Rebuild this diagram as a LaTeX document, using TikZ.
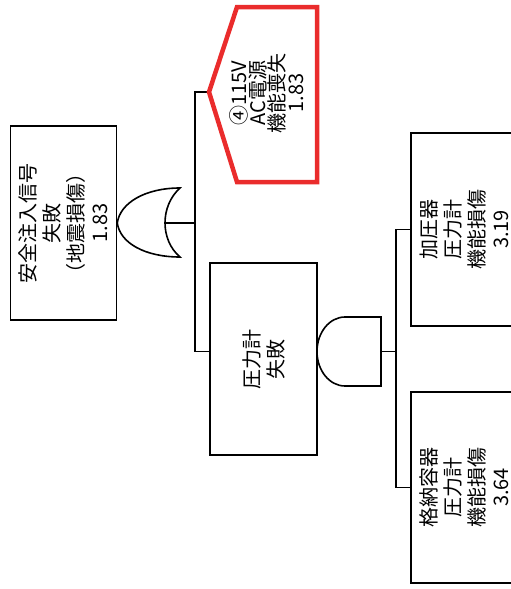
\documentclass[tikz,border=0pt]{standalone}
\usepackage{fontspec}
\newfontfamily\jp{Noto Sans CJK JP}
\definecolor{housered}{RGB}{234,44,44}
\begin{document}
\begin{tikzpicture}[x=1pt,y=-1pt,
  ln/.style={line width=1.6pt, draw=black},
  box/.style={draw=black, line width=1.6pt, rectangle, inner sep=0pt, fill=white},
  txt/.style={rotate=90, align=center, inner sep=0pt, font=\jp\fontsize{20}{24}\selectfont},
  housetxt/.style={rotate=90, align=center, inner sep=0pt, font=\jp\fontsize{20}{19}\selectfont},
  gate/.style={draw=black, line width=1.6pt, fill=white, line join=miter},
  house/.style={draw=housered, line width=4.5pt, line join=miter}]
\useasboundingbox (0,0) rectangle (511,589);
\clip (0,0) rectangle (511,589);

% boxes
\node[box, minimum width=106pt, minimum height=194pt] (b1) at (63.5,223) {};
\node[box, minimum width=107pt, minimum height=192pt] (b2) at (263.5,359) {};
\node[box, minimum width=106pt, minimum height=193pt] (b3) at (464,229.5) {};
\node[box, minimum width=106pt, minimum height=191pt] (b4) at (464,487.5) {};

% gate reference points
\coordinate (ortip) at (b1.east);
\coordinate (orback) at (165,223);
\coordinate (andout) at (381,351.5);
\coordinate (htip) at (209,92);
\coordinate (lb) at (195,92);
\coordinate (rb) at (396,351.5);

% connectors
\draw[ln] (htip) -- (lb) -- (lb |- andout) -- (b2.west |- andout);
\draw[ln] (orback) -- (orback -| lb);
\draw[ln] (andout) -- (rb);
\draw[ln] (b3.west) -- (b3.west -| rb) -- (b4.west -| rb) -- (b4.west);

% OR gate
\draw[gate] (ortip) .. controls (120,203) and (145,188) .. (180,188)
  .. controls (160,206) and (160,240) .. (180,257)
  .. controls (145,257) and (120,243) .. (ortip) -- cycle;

% AND gate
\draw[gate] (andout |- 0,317) -- (345,317)
  .. controls (329.5,317) and (317,332.5) .. (317,351.5)
  .. controls (317,370.5) and (329.5,386) .. (345,386)
  -- (andout |- 0,386) -- cycle;

% house event
\draw[house] (htip) -- (237,7) -- (317,7) -- (317,182) -- (237,182) -- cycle;

% texts
\node[txt] (t1) at (b1) {安全注入信号\\失敗\\（地震損傷）\\1.83};
\node[txt] (t2) at (b2) {圧力計\\失敗};
\node[txt] (t3) at (b3) {加圧器\\圧力計\\機能損傷\\3.19};
\node[txt] (t4) at (b4) {格納容器\\圧力計\\機能損傷\\3.64};
\node[housetxt] (th) at (267,93) {④115V\\AC電源\\機能喪失\\1.83};
\end{tikzpicture}
\end{document}
